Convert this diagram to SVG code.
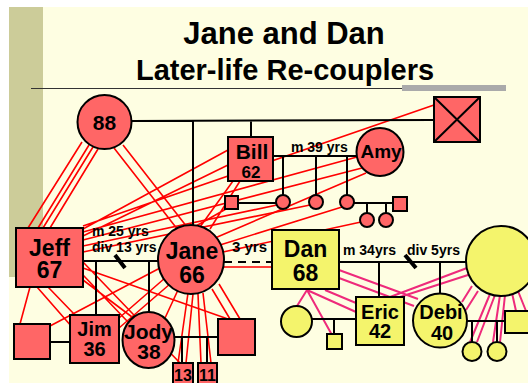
<svg xmlns="http://www.w3.org/2000/svg" width="528" height="383" viewBox="0 0 528 383">
<style>
text{font-family:"Liberation Sans",Arial,sans-serif;font-weight:bold;fill:#000;text-anchor:middle}
.t1{font-size:31px}
.t2{font-size:29px}
.lbl{font-size:14px;text-anchor:start}
.rf{fill:#FF6666;stroke:#000;stroke-width:2}
.yf{fill:#F4F46C;stroke:#000;stroke-width:2}
.k{stroke:#000;stroke-width:2;fill:none}
.r{stroke:#FF0000;stroke-width:1.6;fill:none}
.p{stroke:#EE2A7B;stroke-width:2;fill:none}
</style>
<rect x="0" y="0" width="528" height="383" fill="#FFFFFF"/>
<rect x="9" y="7" width="519" height="376" fill="#FEFEE2"/>
<rect x="9" y="7" width="34" height="270" fill="#CCCC99"/>
<line x1="31" y1="88.5" x2="506" y2="88.5" stroke="#333" stroke-width="1.2"/>
<rect x="402" y="85" width="104" height="6" fill="#AAAAAA"/>
<text class="t1" x="284" y="44">Jane and Dan</text>
<text class="t2" x="285" y="80">Later-life Re-couplers</text>

<g id="connectors">
<!-- red emotional lines -->
<path class="r" d="M82,142 L28,228 M89,145 L38,228 M93,147 L43,228 M98,149 L50,228 M114,148 L178,230 M123,145 L187,227"/>
<path class="r" d="M434,105 L83,226 M357,157 L83,232 M362,168 L83,240 M228,150 L83,229 M228,165 L83,236 M277,205 L83,246 M310,205 L83,252"/>
<path class="r" d="M366,173 L215,238 M342,207 L220,245 M361,222 L223,252 M233,181 L200,227 M240,181 L210,229 M226,209 L196,226"/>
<path class="r" d="M30,287 L20,324 M37,287 L72,327 M48,287 L75,315 M83,268 L228,319 M83,275 L128,322 M83,280 L132,317 M83,262 L180,363"/>
<path class="r" d="M165,278 L119,318 M170,284 L119,328 M178,290 L165,318 M188,293 L178,363 M193,294 L186,363 M198,294 L201,363 M203,293 L211,363 M212,289 L230,319 M219,284 L240,319 M160,268 L50,326 M224,267 L272,267"/>
<!-- pink lines -->
<path class="p" d="M307,290 L297,306 M307,290 L332,335 M307,290 L356,312 M325,290 L356,303 M339,270 L418,299 M339,278 L414,306 M467,268 L390,297 M468,275 L400,297 M472,286 L462,302 M478,291 L466,310"/>
<path class="p" d="M490,294 L470,342 M495,295 L477,342 M500,295 L493,342 M505,295 L500,342 M512,293 L516,311 M518,291 L526,311"/>
<!-- black family lines -->
<path class="k" d="M131,121 L434,120 M193,121 L193,225 M251,121 L251,137"/>
<path class="k" d="M273,156 L356,156 M283,156 L283,195 M316,156 L316,195 M347,156 L347,195 M238,203 L276,203 M354,203 L393,203 M367,203 L367,213 M386,203 L386,213"/>
<path class="k" d="M83,261 L158,261 M96,261 L96,315 M149,261 L149,312 M50,342 L70,342 M174,337 L218,337 M182,337 L182,363 M207,337 L207,363"/>
<path stroke="#000" stroke-width="2" stroke-dasharray="8,6" d="M224,262 L272,262"/>
<path class="k" d="M339,262 L466,262 M379,262 L379,297 M440,262 L440,294 M312,319 L356,319 M334,319 L334,334 M467,321 L505,321 M472,321 L472,342 M497,321 L497,342"/>
<path stroke="#000" stroke-width="4" d="M115,255 L125,268 M405,255 L416,268"/>
</g>

<g id="title-labels">
<text class="lbl" x="291" y="152">m 39 yrs</text>
<text class="lbl" x="92" y="236">m 25 yrs</text>
<text class="lbl" x="92" y="252">div 13 yrs</text>
<text class="lbl" x="232" y="252" style="font-size:15px">3 yrs</text>
<text class="lbl" x="343" y="255">m 34yrs</text>
<text class="lbl" x="407" y="255">div 5yrs</text>
</g>

<g id="n88"><circle class="rf" cx="104.5" cy="122" r="27"/><text x="104.5" y="130" style="font-size:21px">88</text></g>
<g id="nX"><rect class="rf" x="434" y="97" width="46" height="45"/><path class="k" d="M434,97 L480,142 M480,97 L434,142"/></g>
<g id="nBill"><rect class="rf" x="228" y="137" width="45" height="44"/><text x="252" y="159" style="font-size:21px">Bill</text><text x="251" y="178" style="font-size:17px">62</text></g>
<g id="nAmy"><ellipse class="rf" cx="380" cy="152" rx="23.5" ry="24"/><text x="381" y="158" style="font-size:19px">Amy</text></g>
<g id="nBk1"><circle class="rf" cx="283" cy="202" r="7"/></g>
<g id="nBk2"><circle class="rf" cx="316" cy="202" r="7"/></g>
<g id="nBk3"><circle class="rf" cx="347" cy="202" r="7"/></g>
<g id="nBs"><rect class="rf" x="225" y="196" width="13" height="13"/></g>
<g id="nBsp"><rect class="rf" x="393" y="197" width="14" height="14"/></g>
<g id="nGk1"><circle class="rf" cx="367" cy="220" r="7"/></g>
<g id="nGk2"><circle class="rf" cx="386" cy="220" r="7"/></g>
<g id="nJeff"><rect class="rf" x="16" y="228" width="67" height="59"/><text x="49.5" y="256" style="font-size:23px">Jeff</text><text x="49.5" y="278" style="font-size:23px">67</text></g>
<g id="nJane"><ellipse class="rf" cx="191" cy="259.5" rx="33" ry="34.5"/><text x="192" y="259" style="font-size:23px">Jane</text><text x="192" y="283" style="font-size:23px">66</text></g>
<g id="nJimW"><rect class="rf" x="14" y="324" width="36" height="35"/></g>
<g id="nJim"><rect class="rf" x="70" y="315" width="49" height="48"/><text x="94.5" y="336" style="font-size:20px">Jim</text><text x="94.5" y="356" style="font-size:20px">36</text></g>
<g id="nJody"><ellipse class="rf" cx="148.5" cy="340" rx="26" ry="28"/><text x="148.5" y="339" style="font-size:21px">Jody</text><text x="149" y="359" style="font-size:21px">38</text></g>
<g id="nJodyH"><rect class="rf" x="218" y="319" width="37" height="36"/></g>
<g id="n13"><rect class="rf" x="173" y="363" width="20" height="24"/><text x="183" y="381" style="font-size:16px">13</text></g>
<g id="n11"><rect class="rf" x="198" y="363" width="19" height="24"/><text x="207.5" y="381" style="font-size:16px">11</text></g>
<g id="nDan"><rect class="yf" x="272" y="230" width="67" height="59"/><text x="305.5" y="257" style="font-size:23px">Dan</text><text x="305.5" y="281" style="font-size:23px">68</text></g>
<g id="nDanEx"><circle class="yf" cx="501" cy="261" r="35"/></g>
<g id="nEricW"><circle class="yf" cx="296.5" cy="321.5" r="15.5"/></g>
<g id="nEricC"><rect class="yf" x="327" y="334" width="15" height="15"/></g>
<g id="nEric"><rect class="yf" x="356" y="297" width="48" height="48"/><text x="380" y="319" style="font-size:20px">Eric</text><text x="380" y="338" style="font-size:20px">42</text></g>
<g id="nDebi"><circle class="yf" cx="440" cy="320.5" r="27"/><text x="441" y="319" style="font-size:20px">Debi</text><text x="442" y="340" style="font-size:20px">40</text></g>
<g id="nDebiH"><rect class="yf" x="505" y="311" width="30" height="22"/></g>
<g id="nDk1"><circle class="yf" cx="472" cy="351.5" r="9.5"/></g>
<g id="nDk2"><circle class="yf" cx="497" cy="351.5" r="9.5"/></g>
</svg>
